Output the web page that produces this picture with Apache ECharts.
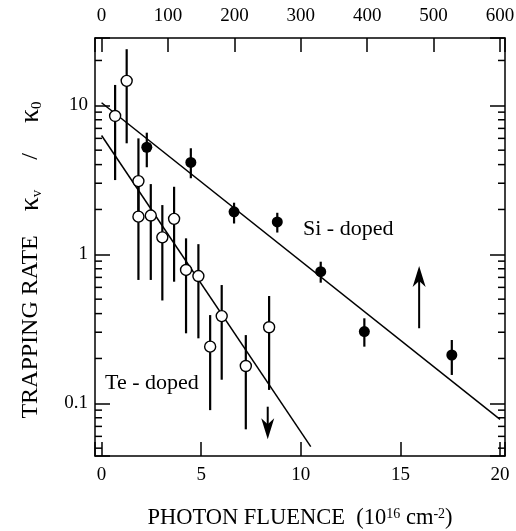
<!DOCTYPE html>
<html>
<head>
<meta charset="utf-8">
<script src="https://cdn.jsdelivr.net/npm/echarts@6/dist/echarts.min.js"></script>
<style>
  html, body { margin: 0; padding: 0; background: #fff; }
  #chart { width: 516px; height: 531px; }
</style>
</head>
<body>
<div id="chart"></div>
<script>
// Si-doped samples (filled circles)
const siX = [2.27, 4.48, 6.65, 8.82, 11.0, 13.19, 17.58];
const siY = [5.23, 4.14, 1.93, 1.65, 0.764, 0.303, 0.211];
const siLow = [3.84, 3.24, 1.61, 1.40, 0.645, 0.24, 0.155];
const siHigh = [6.55, 5.15, 2.22, 1.90, 0.892, 0.372, 0.266];

// Te-doped samples (open circles)
const teX = [0.68, 1.26, 1.85, 1.85, 2.47, 3.05, 3.64, 4.24, 4.86, 5.45, 6.03, 7.24, 8.41];
const teY = [8.48, 14.6, 3.1, 1.79, 1.82, 1.30, 1.73, 0.785, 0.715, 0.24, 0.385, 0.178, 0.324];
const teLow = [3.15, 5.56, 1.8, 0.673, 0.673, 0.49, 0.655, 0.295, 0.273, 0.090, 0.144, 0.0669, 0.123];
const teHigh = [13.7, 23.8, 6.0, 3.1, 2.96, 2.14, 2.84, 1.28, 1.17, 0.391, 0.622, 0.287, 0.525];

// fitted lines
const siFitX = [0, 20];
const siFitY = [10.4, 0.078];
const teFitX = [0, 10.5];
const teFitY = [6.27, 0.0512];

// limit arrows (x, start value, tip value)
const arrowX = [8.34, 15.94];
const arrowFrom = [0.0949, 0.319];
const arrowTo = [0.0573, 0.835];

// axis ticks / labels
const bottomTicks = [0, 5, 10, 15, 20];
const topTicks = [0, 100, 200, 300, 400, 500, 600];
const yTickLabels = ['0.1', '1', '10'];
const yMinorTicks = [0.05, 0.06, 0.07, 0.08, 0.09,
  0.2, 0.3, 0.4, 0.5, 0.6, 0.7, 0.8, 0.9,
  2, 3, 4, 5, 6, 7, 8, 9, 20];

const FONT = 'Liberation Serif';
const X_MIN = -0.33, X_MAX = 20.25;
const Y_MIN = 0.0443, Y_MAX = 28.3;

const chart = echarts.init(document.getElementById('chart'));

const lineStyle = { color: '#000', width: 1.5 };
const labelStyle = { fontFamily: FONT, fontSize: 19, color: '#000' };

function errorBars(xs, lo, hi) {
  return {
    type: 'custom',
    silent: true,
    z: 2,
    data: xs.map((x, i) => [x, lo[i], hi[i]]),
    encode: { x: 0, y: [1, 2] },
    renderItem: (params, api) => {
      const a = api.coord([api.value(0), api.value(1)]);
      const b = api.coord([api.value(0), api.value(2)]);
      return {
        type: 'line',
        shape: { x1: a[0], y1: a[1], x2: b[0], y2: b[1] },
        style: { stroke: '#000', lineWidth: 2.2 }
      };
    }
  };
}

chart.setOption({
  animation: false,
  grid: { left: 95, right: 11, top: 38, bottom: 75, outerBoundsMode: 'none', containLabel: false },
  xAxis: [
    {
      type: 'value',
      position: 'bottom',
      min: X_MIN,
      max: X_MAX,
      axisLine: { onZero: false, lineStyle: lineStyle },
      axisTick: { inside: true, length: 14, lineStyle: lineStyle },
      splitLine: { show: false },
      axisLabel: Object.assign({
        margin: 10,
        formatter: v => (bottomTicks.includes(Math.round(v * 1000) / 1000) ? String(Math.round(v)) : '')
      }, labelStyle),
      name: 'PHOTON FLUENCE  (10{sup|16} cm{sup|-2})',
      nameLocation: 'middle',
      nameGap: 51,
      nameTextStyle: {
        fontFamily: FONT, fontSize: 22.5, color: '#000',
        rich: {
          sup: { fontFamily: FONT, fontSize: 14, color: '#000', verticalAlign: 'top', lineHeight: 12 }
        }
      }
    },
    {
      type: 'value',
      position: 'top',
      min: X_MIN * 30,
      max: X_MAX * 30,
      axisLine: { onZero: false, lineStyle: lineStyle },
      axisTick: { inside: true, length: 14, lineStyle: lineStyle },
      splitLine: { show: false },
      axisLabel: Object.assign({
        margin: 12,
        formatter: v => (topTicks.includes(Math.round(v)) && Math.abs(v - Math.round(v)) < 1e-6 ? String(Math.round(v)) : '')
      }, labelStyle)
    }
  ],
  yAxis: [
    {
      type: 'log',
      logBase: 10,
      position: 'left',
      min: Y_MIN,
      max: Y_MAX,
      axisLine: { show: true, onZero: false, lineStyle: lineStyle },
      axisTick: { show: true, inside: true, length: 15, lineStyle: lineStyle },
      splitLine: { show: false },
      axisLabel: Object.assign({
        margin: 7,
        padding: [11, 0, 0, 0],
        formatter: v => {
          const s = String(+v.toPrecision(3));
          return yTickLabels.includes(s) ? s : '';
        }
      }, labelStyle),
      name: 'TRAPPING RATE    {k|κ}{sub|v}     /     {k|κ}{sub|0}',
      nameLocation: 'middle',
      nameRotate: 90,
      nameGap: 50,
      nameTextStyle: {
        fontFamily: FONT, fontSize: 24, color: '#000',
        padding: [0, 26, 0, 0],
        rich: {
          k: { fontFamily: FONT, fontSize: 28, color: '#000' },
          sub: { fontFamily: FONT, fontSize: 15, color: '#000', verticalAlign: 'bottom', lineHeight: 12 }
        }
      }
    },
    {
      type: 'log',
      logBase: 10,
      position: 'right',
      min: Y_MIN,
      max: Y_MAX,
      axisLine: { show: true, onZero: false, lineStyle: lineStyle },
      axisTick: { show: true, inside: true, length: 15, lineStyle: lineStyle },
      splitLine: { show: false },
      axisLabel: { show: false }
    }
  ],
  graphic: [
    { type: 'text', left: 303, top: 218, style: { text: 'Si - doped', font: '22px "Liberation Serif"', fill: '#000' } },
    { type: 'text', left: 105, top: 372, style: { text: 'Te - doped', font: '22px "Liberation Serif"', fill: '#000' } }
  ],
  series: [
    // minor ticks of the log axes, left and right
    {
      type: 'custom',
      silent: true,
      z: 1,
      data: yMinorTicks.map(v => [0, v]),
      renderItem: (params, api) => {
        const y = api.coord([0, api.value(1)])[1];
        const cs = params.coordSys;
        return {
          type: 'group',
          children: [
            { type: 'line', shape: { x1: cs.x, y1: y, x2: cs.x + 7, y2: y }, style: { stroke: '#000', lineWidth: 1.5 } },
            { type: 'line', shape: { x1: cs.x + cs.width - 7, y1: y, x2: cs.x + cs.width, y2: y }, style: { stroke: '#000', lineWidth: 1.5 } }
          ]
        };
      }
    },
    {
      type: 'line',
      data: siFitX.map((x, i) => [x, siFitY[i]]),
      showSymbol: false,
      silent: true,
      lineStyle: { color: '#000', width: 1.5 },
      z: 2
    },
    {
      type: 'line',
      data: teFitX.map((x, i) => [x, teFitY[i]]),
      showSymbol: false,
      silent: true,
      lineStyle: { color: '#000', width: 1.5 },
      z: 2
    },
    errorBars(siX, siLow, siHigh),
    errorBars(teX, teLow, teHigh),
    {
      type: 'scatter',
      data: siX.map((x, i) => [x, siY[i]]),
      symbol: 'circle',
      symbolSize: 11,
      itemStyle: { color: '#000', opacity: 1 },
      z: 3
    },
    {
      type: 'scatter',
      data: teX.map((x, i) => [x, teY[i]]),
      symbol: 'circle',
      symbolSize: 11,
      itemStyle: { color: '#fff', borderColor: '#000', borderWidth: 1.4, opacity: 1 },
      z: 4
    },
    // upper / lower limit arrows
    {
      type: 'custom',
      silent: true,
      z: 3,
      data: arrowX.map((x, i) => [x, arrowFrom[i], arrowTo[i]]),
      encode: { x: 0, y: [1, 2] },
      renderItem: (params, api) => {
        const a = api.coord([api.value(0), api.value(1)]);
        const b = api.coord([api.value(0), api.value(2)]);
        const d = b[1] > a[1] ? 1 : -1;
        return {
          type: 'group',
          children: [
            { type: 'line', shape: { x1: a[0], y1: a[1], x2: b[0], y2: b[1] - d * 14 }, style: { stroke: '#000', lineWidth: 2 } },
            {
              type: 'polygon',
              shape: { points: [[b[0], b[1]], [b[0] - 6.5, b[1] - d * 21], [b[0], b[1] - d * 15], [b[0] + 6.5, b[1] - d * 21]] },
              style: { fill: '#000' }
            }
          ]
        };
      }
    }
  ]
});
</script>
</body>
</html>
